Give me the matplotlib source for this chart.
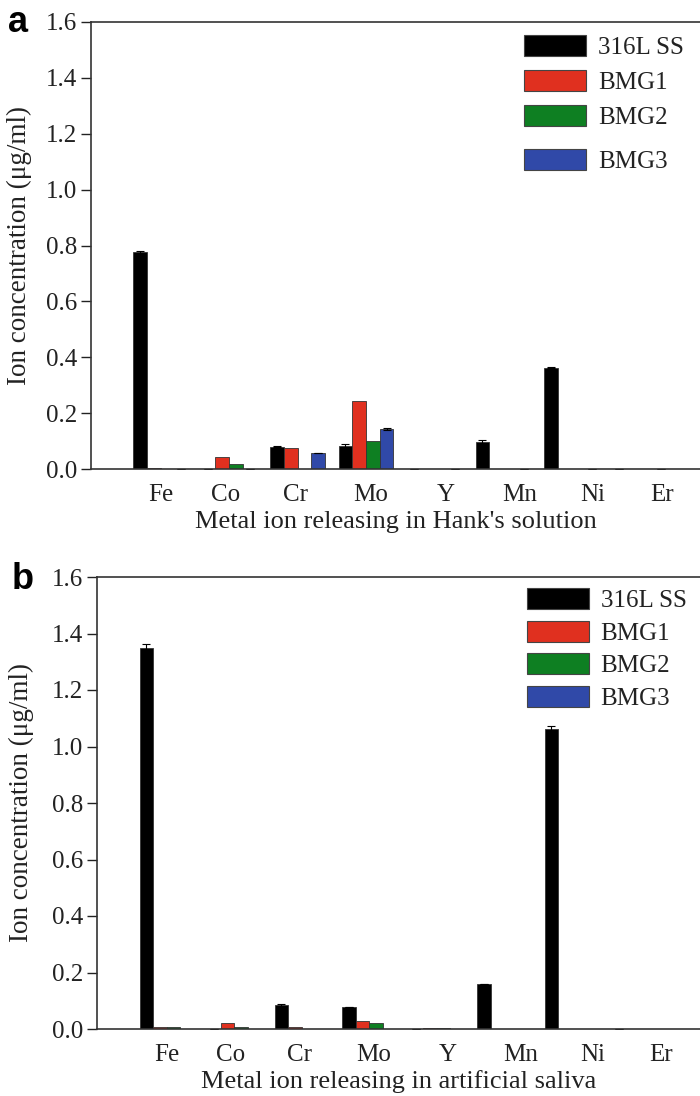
import numpy as np
import matplotlib
matplotlib.use("Agg")
import matplotlib.pyplot as plt
from matplotlib.patches import Patch

elements = ["Fe", "Co", "Cr", "Mo", "Y", "Mn", "Ni", "Er"]
series = ["316L SS", "BMG1", "BMG2", "BMG3"]
colors = ["#000000", "#e0301f", "#0e7f22", "#3049a8"]

# Panel a: Hank's solution
hank_316L = [0.775, 0.0, 0.079, 0.082, 0.0, 0.097, 0.363, 0.0]
hank_bmg1 = [0.004, 0.044, 0.074, 0.243, 0.0, 0.0, 0.0, 0.0]
hank_bmg2 = [0.0, 0.018, 0.0, 0.100, 0.0, 0.0, 0.0, 0.0]
hank_bmg3 = [0.0, 0.0, 0.056, 0.143, 0.0, 0.0, 0.0, 0.0]
hank_err_316L = [0.004, 0.0, 0.002, 0.006, 0.0, 0.006, 0.003, 0.0]
hank_err_bmg3 = [0.0, 0.0, 0.0, 0.004, 0.0, 0.0, 0.0, 0.0]

# Panel b: artificial saliva
saliva_316L = [1.35, 0.0, 0.085, 0.079, 0.0, 0.161, 1.062, 0.0]
saliva_bmg1 = [0.008, 0.021, 0.008, 0.028, 0.005, 0.0, 0.0, 0.0]
saliva_bmg2 = [0.008, 0.008, 0.0, 0.020, 0.005, 0.0, 0.0, 0.0]
saliva_bmg3 = [0.0, 0.0, 0.0, 0.0, 0.0, 0.0, 0.0, 0.0]
saliva_err_316L = [0.012, 0.0, 0.003, 0.0, 0.0, 0.0, 0.012, 0.0]

yticks = [0.0, 0.2, 0.4, 0.6, 0.8, 1.0, 1.2, 1.4, 1.6]
label_pos = [0.0, 0.95, 1.97, 3.07, 4.17, 5.24, 6.31, 7.32]

plt.rcParams["font.family"] = ["Liberation Serif", "DejaVu Serif"]

W, H = 700, 1096
fig = plt.figure(figsize=(W / 100, H / 100), dpi=100)

def make_ax(left, top, right, bottom):
    return fig.add_axes([left / W, 1 - bottom / H, (right - left) / W, (bottom - top) / H])

ax_a = make_ax(91, 22, 700, 469)
ax_b = make_ax(97, 577, 700, 1029)

bw = 0.2
x = np.arange(len(elements))
offs = [-1.5, -0.5, 0.5, 1.5]
TXT = "#222222"

def draw(ax, vals, errs, xlabel, xlim, letter, ylab_x, xlab_y, letter_xy):
    for i, (name, v, c) in enumerate(zip(series, vals, colors)):
        e = errs[i]
        ax.bar(x + offs[i] * bw, v, width=bw, color=c, edgecolor="#333333",
               linewidth=0.6, label=name,
               yerr=e if e is not None else None,
               error_kw=dict(ecolor="black", elinewidth=0.8, capsize=3, capthick=0.8))
    ax.set_ylim(0, 1.6)
    ax.set_xlim(*xlim)
    ax.set_yticks(yticks)
    ax.set_yticklabels([f"{t:.1f}" for t in yticks])
    ax.set_xticks(label_pos)
    ax.set_xticklabels(elements)
    ax.tick_params(axis="x", length=0, labelsize=18, pad=11, colors=TXT)
    ax.tick_params(axis="y", direction="out", length=7, width=1, labelsize=18, pad=3, colors=TXT)
    ax.spines["right"].set_visible(False)
    for s in ["left", "top", "bottom"]:
        ax.spines[s].set_linewidth(1.2)
        ax.spines[s].set_color("#333333")
    ax.set_xlabel(xlabel, fontsize=19, color=TXT)
    ax.xaxis.set_label_coords(0.5, xlab_y)
    ax.set_ylabel("Ion concentration (μg/ml)", fontsize=19.5, color=TXT)
    ax.yaxis.set_label_coords(ylab_x, 0.5)
    ax.text(letter_xy[0], letter_xy[1], letter, transform=ax.transAxes, fontsize=26,
            fontweight="bold", family=["Liberation Sans", "DejaVu Sans"],
            ha="left", va="center")

def legend_group(ax, idx, anchor, spacing):
    hs = [Patch(facecolor=colors[i], edgecolor="#444444", linewidth=0.8) for i in idx]
    ls = [series[i] for i in idx]
    leg = ax.legend(hs, ls, loc="upper left", bbox_to_anchor=anchor, frameon=False,
                    fontsize=18, handlelength=2.5, handleheight=0.9,
                    labelspacing=spacing, handletextpad=0.45, borderaxespad=0, borderpad=0)
    for t in leg.get_texts():
        t.set_color(TXT)
    return leg

draw(ax_a, [hank_316L, hank_bmg1, hank_bmg2, hank_bmg3],
     [hank_err_316L, None, None, hank_err_bmg3],
     "Metal ion releasing in Hank's solution", (-1.015, 7.876), "a",
     -0.097, -0.094, (-0.136, 1.0))
leg1 = legend_group(ax_a, [0, 1, 2], (0.711, 0.971), 0.44)
ax_a.add_artist(leg1)
legend_group(ax_a, [3], (0.711, 0.716), 0.42)

draw(ax_b, [saliva_316L, saliva_bmg1, saliva_bmg2, saliva_bmg3],
     [saliva_err_316L, None, None, None],
     "Metal ion releasing in artificial saliva", (-1.03, 7.9), "b",
     -0.104, -0.09, (-0.142, 0.995))
legend_group(ax_b, [0, 1, 2, 3], (0.713, 0.975), 0.34)

fig.savefig("out.png", dpi=100)
